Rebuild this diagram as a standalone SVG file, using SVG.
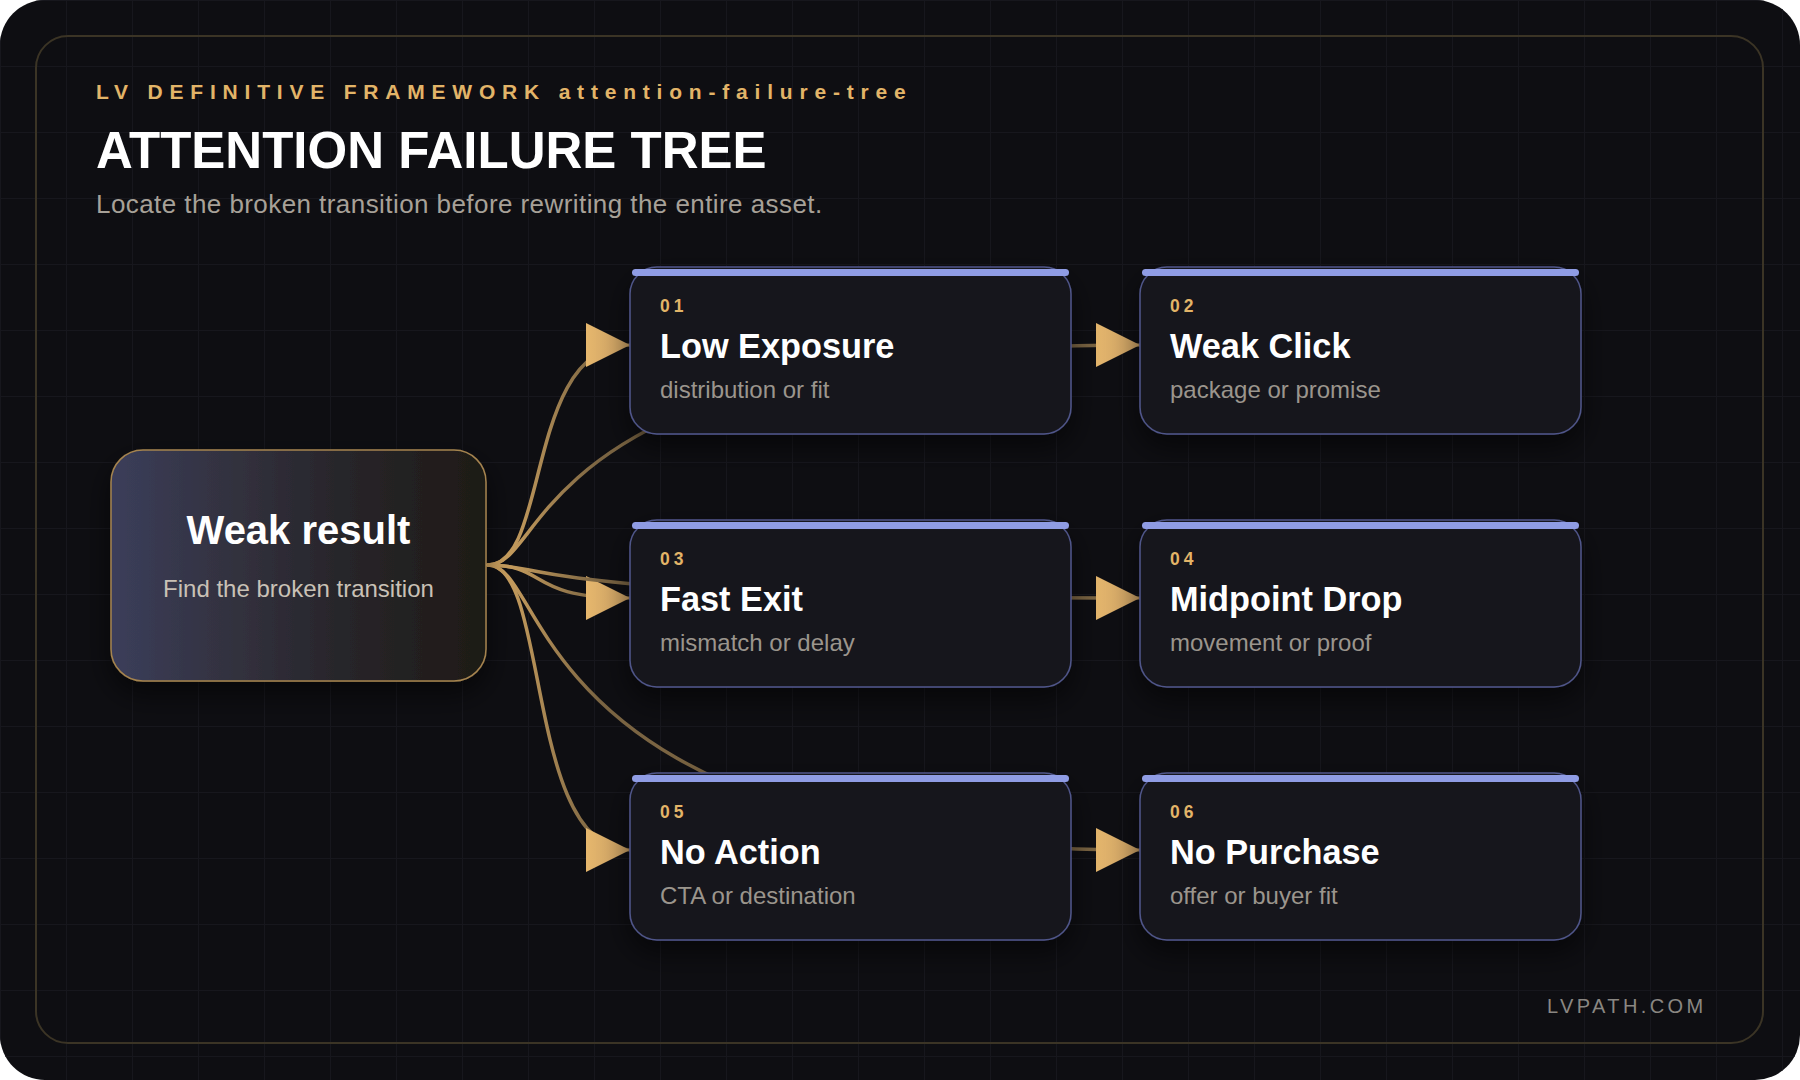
<svg xmlns="http://www.w3.org/2000/svg" width="1800" height="1080" viewBox="0 0 1800 1080">
  <defs>
    <style>
      .sans { font-family: "Liberation Sans", Arial, "Helvetica Neue", sans-serif; }
      .card { fill: #18181f; stroke: #50568a; stroke-width: 1.5; }
      .bar { fill: #8f9ce4; }
      .num { font-size: 17.5px; font-weight: 700; fill: #e2b468; letter-spacing: 4px; }
      .ttl { font-size: 34.3px; font-weight: 700; fill: #ffffff; }
      .sub { font-size: 24px; fill: #9b958d; }
      .link { fill: none; stroke: url(#linkGrad); stroke-width: 3.5; stroke-linecap: round; marker-end: url(#arrow); }
    </style>
    <pattern id="grid" x="0" y="0" width="66" height="66" patternUnits="userSpaceOnUse">
      <path d="M0.5 0 V66 M0 0.5 H66" fill="none" stroke="#17171d" stroke-width="1"/>
    </pattern>
    <linearGradient id="rootGrad" x1="0" y1="0" x2="1" y2="0">
      <stop offset="0" stop-color="#3b3e5b"/>
      <stop offset="0.3" stop-color="#333240"/>
      <stop offset="0.6" stop-color="#28262b"/>
      <stop offset="1" stop-color="#1e1a16"/>
    </linearGradient>
    <linearGradient id="linkGrad" gradientUnits="userSpaceOnUse" x1="488" y1="0" x2="600" y2="0">
      <stop offset="0" stop-color="#d8aa64"/>
      <stop offset="1" stop-color="#7a6442"/>
    </linearGradient>
    <linearGradient id="arrowGrad" x1="0" y1="0" x2="1" y2="0">
      <stop offset="0" stop-color="#e6b76d"/>
      <stop offset="1" stop-color="#c99f63"/>
    </linearGradient>
    <marker id="arrow" viewBox="0 0 44 44" refX="44" refY="22" markerWidth="44" markerHeight="44" markerUnits="userSpaceOnUse" orient="auto">
      <path d="M0 0 L44 22 L0 44 Z" fill="url(#arrowGrad)"/>
    </marker>
    <filter id="shadow" x="-20%" y="-20%" width="140%" height="160%">
      <feDropShadow dx="0" dy="12" stdDeviation="14" flood-color="#000000" flood-opacity="0.55"/>
    </filter>
  </defs>

  <rect x="0" y="0" width="1800" height="1080" fill="#ffffff"/>
  <rect x="0" y="0" width="1800" height="1080" rx="45" ry="45" fill="#0e0e12"/>
  <rect x="0" y="0" width="1800" height="1080" rx="45" ry="45" fill="url(#grid)"/>
  <rect x="36" y="36" width="1727" height="1007" rx="32" ry="32" fill="none" stroke="#3b3425" stroke-width="2"/>

  <g id="header" class="sans">
    <text x="96" y="99" font-size="21" font-weight="700" fill="#e2b468" letter-spacing="6.8">LV DEFINITIVE FRAMEWORK attention-failure-tree</text>
    <text x="96" y="168" font-size="51" font-weight="700" fill="#ffffff">ATTENTION FAILURE TREE</text>
    <text x="96" y="213" font-size="26" fill="#a7a198" letter-spacing="0.43">Locate the broken transition before rewriting the entire asset.</text>
  </g>

  <g id="connectors">
    <path class="link" d="M488 565 C550 565 525 345 630 345"/>
    <path class="link" d="M488 565 C550 565 525 345 1140 345"/>
    <path class="link" d="M488 565 C550 565 525 598 630 598"/>
    <path class="link" d="M488 565 C550 565 525 598 1140 598"/>
    <path class="link" d="M488 565 C550 565 525 850 630 850"/>
    <path class="link" d="M488 565 C550 565 525 850 1140 850"/>
  </g>

  <g id="node-root" class="sans">
    <rect x="111" y="450" width="375" height="231" rx="32" ry="32" fill="url(#rootGrad)" stroke="#a5844f" stroke-width="1.5" filter="url(#shadow)"/>
    <text x="298.5" y="544" text-anchor="middle" font-size="40" font-weight="700" fill="#ffffff">Weak result</text>
    <text x="298.5" y="597" text-anchor="middle" font-size="24" fill="#c9c1b6">Find the broken transition</text>
  </g>

  <g id="node-01" class="sans">
    <rect class="card" x="630" y="267" width="441" height="167" rx="27" ry="27" filter="url(#shadow)"/>
    <rect class="bar" x="632" y="269" width="437" height="7" rx="3.5"/>
    <text class="num" x="660" y="312">01</text>
    <text class="ttl" x="660" y="358">Low Exposure</text>
    <text class="sub" x="660" y="398">distribution or fit</text>
  </g>

  <g id="node-02" class="sans">
    <rect class="card" x="1140" y="267" width="441" height="167" rx="27" ry="27" filter="url(#shadow)"/>
    <rect class="bar" x="1142" y="269" width="437" height="7" rx="3.5"/>
    <text class="num" x="1170" y="312">02</text>
    <text class="ttl" x="1170" y="358">Weak Click</text>
    <text class="sub" x="1170" y="398">package or promise</text>
  </g>

  <g id="node-03" class="sans">
    <rect class="card" x="630" y="520" width="441" height="167" rx="27" ry="27" filter="url(#shadow)"/>
    <rect class="bar" x="632" y="522" width="437" height="7" rx="3.5"/>
    <text class="num" x="660" y="565">03</text>
    <text class="ttl" x="660" y="611">Fast Exit</text>
    <text class="sub" x="660" y="651">mismatch or delay</text>
  </g>

  <g id="node-04" class="sans">
    <rect class="card" x="1140" y="520" width="441" height="167" rx="27" ry="27" filter="url(#shadow)"/>
    <rect class="bar" x="1142" y="522" width="437" height="7" rx="3.5"/>
    <text class="num" x="1170" y="565">04</text>
    <text class="ttl" x="1170" y="611">Midpoint Drop</text>
    <text class="sub" x="1170" y="651">movement or proof</text>
  </g>

  <g id="node-05" class="sans">
    <rect class="card" x="630" y="773" width="441" height="167" rx="27" ry="27" filter="url(#shadow)"/>
    <rect class="bar" x="632" y="775" width="437" height="7" rx="3.5"/>
    <text class="num" x="660" y="818">05</text>
    <text class="ttl" x="660" y="864">No Action</text>
    <text class="sub" x="660" y="904">CTA or destination</text>
  </g>

  <g id="node-06" class="sans">
    <rect class="card" x="1140" y="773" width="441" height="167" rx="27" ry="27" filter="url(#shadow)"/>
    <rect class="bar" x="1142" y="775" width="437" height="7" rx="3.5"/>
    <text class="num" x="1170" y="818">06</text>
    <text class="ttl" x="1170" y="864">No Purchase</text>
    <text class="sub" x="1170" y="904">offer or buyer fit</text>
  </g>

  <g id="footer" class="sans">
    <text x="1547" y="1013" font-size="20" fill="#8a8782" letter-spacing="3.4">LVPATH.COM</text>
  </g>
</svg>
